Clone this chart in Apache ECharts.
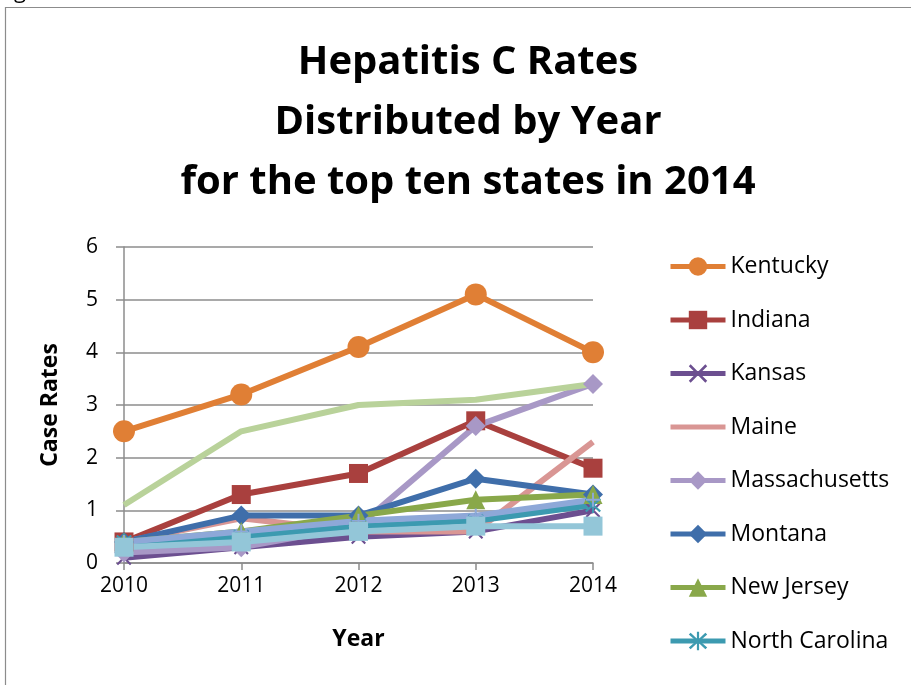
<!DOCTYPE html>
<html>
<head>
<meta charset="utf-8">
<script src="https://cdn.jsdelivr.net/npm/echarts@6/dist/echarts.min.js"></script>
<style>html,body{margin:0;padding:0;background:#fff;}#c{width:911px;height:685px;}</style>
</head>
<body>
<div id="c"></div>
<script>
var years = ['2010', '2011', '2012', '2013', '2014'];
var kentucky = [2.5, 3.2, 4.1, 5.1, 4.0];
var indiana = [0.4, 1.3, 1.7, 2.7, 1.8];
var kansas = [0.1, 0.3, 0.5, 0.6, 1.0];
var maine = [0.4, 0.85, 0.6, 0.6, 2.3];
var massachusetts = [0.2, 0.3, 0.7, 2.6, 3.4];
var montana = [0.4, 0.9, 0.9, 1.6, 1.3];
var newJersey = [0.4, 0.6, 0.9, 1.2, 1.3];
var northCarolina = [0.4, 0.5, 0.7, 0.8, 1.1];
var tennessee = [0.4, 0.6, 0.8, 0.9, 1.2];
var westVirginia = [1.1, 2.5, 3.0, 3.1, 3.4];
var unitedStates = [0.3, 0.4, 0.6, 0.7, 0.7];
var legendNames = ['Kentucky', 'Indiana', 'Kansas', 'Maine', 'Massachusetts', 'Montana', 'New Jersey', 'North Carolina'];

var X_PATH = 'path://M0,1L1,0L5,4L9,0L10,1L6,5L10,9L9,10L5,6L1,10L0,9L4,5Z';
var STAR_PATH = 'path://M0,1.5L1,0.5L5,4.3L9,0.5L10,1.5L6,5L10,8.5L9,9.5L5,5.7L1,9.5L0,8.5L4,5Z M4.4,0L5.6,0L5.6,10L4.4,10Z';
var PLUS_PATH = 'path://M4.3,0H5.7V4.3H10V5.7H5.7V10H4.3V5.7H0V4.3H4.3Z';
var BAR_PATH = 'path://M0,0H55V5H0Z';

function mk(name, data, color, symbol, size) {
  return {
    name: name, type: 'line', data: data,
    symbol: symbol, symbolSize: size, showSymbol: symbol !== 'none',
    lineStyle: {color: color, width: 6},
    itemStyle: {color: color},
    emphasis: {disabled: true},
    animation: false
  };
}

var legendData = legendNames.map(function (n) {
  return n === 'Maine' ? {name: n, icon: BAR_PATH} : {name: n};
});

var chart = echarts.init(document.getElementById('c'));
var FONT = 'Open Sans';
chart.setOption({
  backgroundColor: '#ffffff',
  title: {
    text: 'Hepatitis C Rates\nDistributed by Year\nfor the top ten states in 2014',
    left: 468, top: 33, textAlign: 'center', padding: 0,
    textStyle: {fontFamily: FONT, fontWeight: 'bold', fontSize: 40, lineHeight: 60, color: '#000'}
  },
  graphic: [{
    type: 'rect', silent: true,
    shape: {x: 5.5, y: 7.5, width: 1000, height: 1000},
    style: {fill: 'none', stroke: '#8c8c8c', lineWidth: 1.2}
  }, {
    type: 'text', silent: true, x: 14, y: -19,
    style: {text: 'g', font: '22px "Open Sans"', fill: '#000'}
  }],
  legend: {
    data: legendData, orient: 'vertical', left: 668, top: 255, height: 1000,
    itemWidth: 55, itemHeight: 23, itemGap: 30.5, padding: 0,
    lineStyle: {width: 5},
    textStyle: {fontFamily: FONT, fontSize: 23, lineHeight: 20, color: '#000'},
    selectedMode: false
  },
  grid: {left: 124, right: 318, top: 247, bottom: 122, containLabel: false},
  xAxis: {
    type: 'category', data: years, boundaryGap: false,
    name: 'Year', nameLocation: 'middle', nameGap: 65,
    nameTextStyle: {fontFamily: FONT, fontWeight: 'bold', fontSize: 23, color: '#000'},
    axisLine: {show: true, lineStyle: {color: '#8c8c8c', width: 1.5}},
    axisTick: {show: true, length: 7, lineStyle: {color: '#8c8c8c', width: 1.5}},
    axisLabel: {fontFamily: FONT, fontSize: 21, color: '#000', margin: 13}
  },
  yAxis: {
    type: 'value', min: 0, max: 6, interval: 1,
    name: 'Case Rates', nameLocation: 'middle', nameGap: 62, nameRotate: 90,
    nameTextStyle: {fontFamily: FONT, fontWeight: 'bold', fontSize: 23, color: '#000'},
    axisLine: {show: true, lineStyle: {color: '#8c8c8c', width: 1.5}},
    axisTick: {show: true, length: 8, lineStyle: {color: '#8c8c8c', width: 1.5}},
    splitLine: {show: true, lineStyle: {color: '#8c8c8c', width: 1.5}},
    axisLabel: {fontFamily: FONT, fontSize: 21, color: '#000', margin: 26}
  },
  series: [
    mk('Kentucky', kentucky, '#E07F35', 'circle', 22),
    mk('Indiana', indiana, '#A9403E', 'rect', 19),
    mk('Kansas', kansas, '#6C4F90', X_PATH, 15),
    mk('Maine', maine, '#D99694', 'none', 0),
    mk('Massachusetts', massachusetts, '#A898C6', 'diamond', 20),
    mk('Montana', montana, '#3F6EAA', 'diamond', 20),
    mk('New Jersey', newJersey, '#89A84A', 'triangle', 19),
    mk('North Carolina', northCarolina, '#3C9AB0', STAR_PATH, 16),
    mk('Tennessee', tennessee, '#8EA8D8', PLUS_PATH, 14),
    mk('West Virginia', westVirginia, '#B9D29A', 'none', 0),
    mk('United States', unitedStates, '#93C6D8', 'rect', 19)
  ]
});
</script>
</body>
</html>
